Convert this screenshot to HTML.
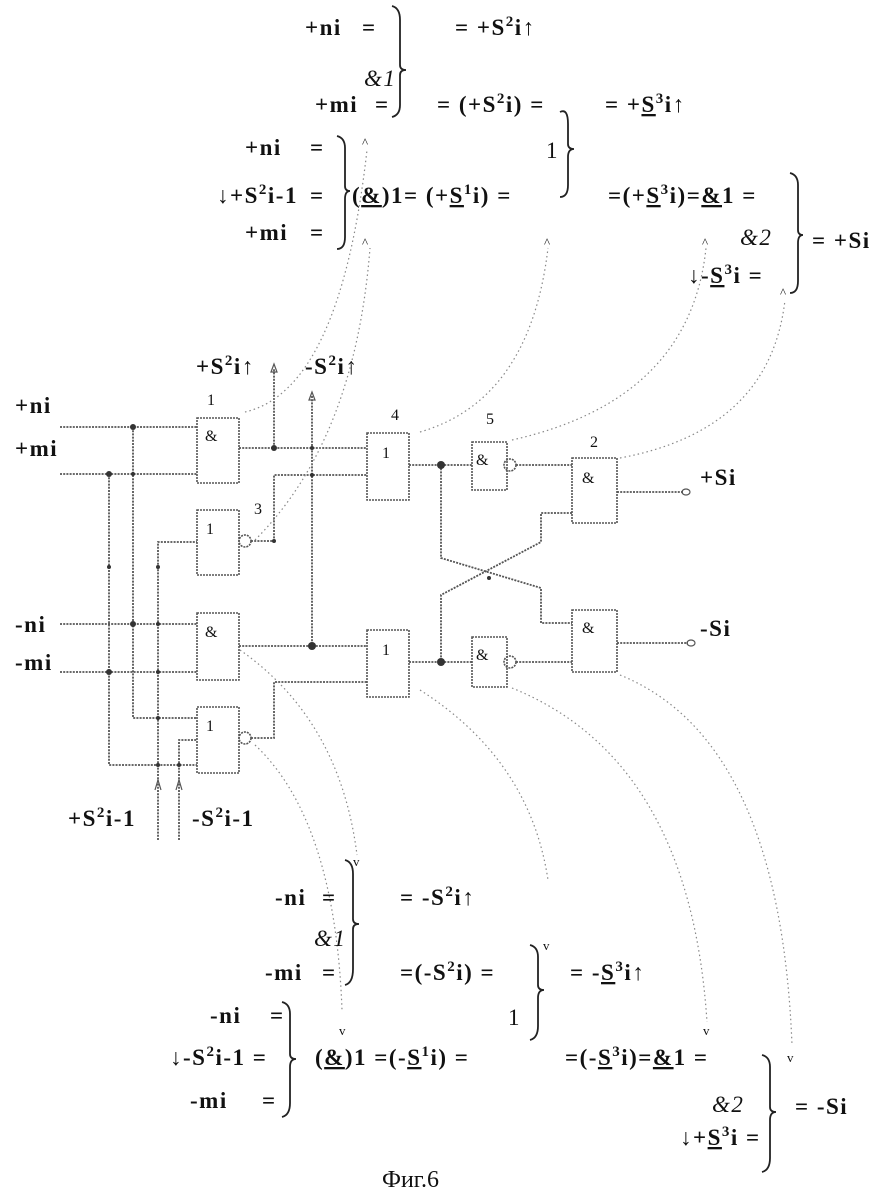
<!DOCTYPE html>
<html><head><meta charset="utf-8"><style>
html,body{margin:0;padding:0;background:#fff;}
svg{display:block;}
text{font-family:"Liberation Serif",serif;fill:#111;}
.t{font-size:23px;font-weight:bold;letter-spacing:1.5px;}
.s{font-size:13px;}
.g{fill:none;stroke:#555;stroke-width:1.8;stroke-dasharray:2 1.2;}
.w{fill:none;stroke:#555;stroke-width:1.6;stroke-dasharray:2 1;}
.d{fill:none;stroke:#888;stroke-width:1.2;stroke-dasharray:1.5 3;}
.br{fill:none;stroke:#222;stroke-width:1.8;}
.j{fill:#333;}
.gl{font-size:16px;fill:#666;}
</style></head><body>
<svg width="888" height="1196" viewBox="0 0 888 1196" xmlns="http://www.w3.org/2000/svg">
<!-- TOP EQUATIONS -->
<g class="t">
<text x="305" y="35">+ni</text><text x="362" y="35">=</text>
<text x="455" y="35">= +S<tspan dy="-9" font-size="15">2</tspan><tspan dy="9">i↑</tspan></text>
<text x="364" y="86" font-style="italic" font-weight="normal">&amp;1</text>
<text x="315" y="112">+mi</text><text x="375" y="112">=</text>
<text x="437" y="112">= (+S<tspan dy="-9" font-size="15">2</tspan><tspan dy="9">i) =</tspan></text>
<text x="605" y="112">= +<tspan text-decoration="underline">S</tspan><tspan dy="-9" font-size="15">3</tspan><tspan dy="9">i↑</tspan></text>
<text x="245" y="155">+ni</text><text x="310" y="155">=</text>
<text x="546" y="158" font-weight="normal">1</text>
<text x="217" y="203">↓+S<tspan dy="-9" font-size="15">2</tspan><tspan dy="9">i-1</tspan></text><text x="310" y="203">=</text>
<text x="352" y="203">(<tspan text-decoration="underline">&amp;</tspan>)1= (+<tspan text-decoration="underline">S</tspan><tspan dy="-9" font-size="15">1</tspan><tspan dy="9">i) =</tspan></text>
<text x="608" y="203">=(+<tspan text-decoration="underline">S</tspan><tspan dy="-9" font-size="15">3</tspan><tspan dy="9">i)=</tspan><tspan text-decoration="underline">&amp;</tspan>1 =</text>
<text x="245" y="240">+mi</text><text x="310" y="240">=</text>
<text x="740" y="245" font-style="italic" font-weight="normal">&amp;2</text>
<text x="812" y="248">= +Si</text>
<text x="688" y="283">↓-<tspan text-decoration="underline">S</tspan><tspan dy="-9" font-size="15">3</tspan><tspan dy="9">i =</tspan></text>
</g>
<g class="s"><text x="362" y="147">^</text><text x="362" y="247">^</text><text x="544" y="247">^</text><text x="702" y="247">^</text><text x="780" y="297">^</text></g>
<g class="br">
<path d="M392,6 q8,2 8,14 v45 q0,5 6,5 q-6,0 -6,5 v30 q0,10 -8,12"/>
<path d="M560,112 q8,-4 8,12 v20 q0,5 6,5 q-6,0 -6,8 v28 q0,12 -8,12"/>
<path d="M337,136 q8,2 8,12 v38 q0,5 5,5 q-5,0 -5,8 v38 q0,12 -8,12"/>
<path d="M790,173 q8,2 8,12 v45 q0,5 5,5 q-5,0 -5,8 v38 q0,12 -8,12"/>
</g>
<!-- CIRCUIT -->
<g class="t"><text x="15" y="413">+ni</text><text x="15" y="456">+mi</text>
<text x="15" y="632">-ni</text><text x="15" y="670">-mi</text>
<text x="700" y="485">+Si</text><text x="700" y="636">-Si</text>
<text x="196" y="374">+S<tspan dy="-9" font-size="15">2</tspan><tspan dy="9">i↑</tspan></text>
<text x="305" y="374">-S<tspan dy="-9" font-size="15">2</tspan><tspan dy="9">i↑</tspan></text>
<text x="68" y="826">+S<tspan dy="-9" font-size="15">2</tspan><tspan dy="9">i-1</tspan></text>
<text x="192" y="826">-S<tspan dy="-9" font-size="15">2</tspan><tspan dy="9">i-1</tspan></text></g>
<g class="gl"><text x="207" y="405">1</text><text x="391" y="420">4</text><text x="486" y="424">5</text><text x="590" y="447">2</text><text x="254" y="514">3</text></g>
<g class="w">
<rect x="197" y="418" width="42" height="65"/><rect x="197" y="510" width="42" height="65"/>
<rect x="197" y="613" width="42" height="67"/><rect x="197" y="707" width="42" height="66"/>
<rect x="367" y="433" width="42" height="67"/><rect x="367" y="630" width="42" height="67"/>
<rect x="472" y="442" width="35" height="48"/><rect x="472" y="637" width="35" height="50"/>
<rect x="572" y="458" width="45" height="65"/><rect x="572" y="610" width="45" height="62"/>
<circle cx="245" cy="541" r="6"/><circle cx="245" cy="738" r="6"/>
<circle cx="510" cy="465" r="6"/><circle cx="510" cy="662" r="6"/>
</g>
<g class="gl"><text x="205" y="441">&amp;</text><text x="206" y="534">1</text><text x="205" y="637">&amp;</text><text x="206" y="731">1</text>
<text x="382" y="458">1</text><text x="382" y="655">1</text><text x="476" y="465">&amp;</text><text x="476" y="660">&amp;</text>
<text x="582" y="483">&amp;</text><text x="582" y="633">&amp;</text></g>
<g class="g">
<path d="M60,427 H197 M60,474 H197"/>
<path d="M133,427 V718 H197 M109,474 V765 H197"/>
<path d="M158,840 V542 H197 M179,840 V740 H197"/>
<path d="M239,448 H367 M274,448 V368 M312,396 V646"/>
<path d="M251,541 H274 V475 H367"/>
<path d="M60,624 H197 M60,672 H197"/>
<path d="M239,646 H367 M251,738 H274 V682 H367"/>
<path d="M409,465 H472 M516,465 H572 M617,492 H683"/>
<path d="M441,465 V558 L541,588 V623 H572"/>
<path d="M572,513 H541 V542 L441,595 V662"/>
<path d="M409,662 H472 M516,662 H572 M617,643 H688"/>
</g>
<g class="j"><circle cx="133" cy="427" r="3"/><circle cx="109" cy="474" r="3"/><circle cx="133" cy="474" r="2"/>
<circle cx="274" cy="448" r="3"/><circle cx="312" cy="448" r="2"/><circle cx="312" cy="475" r="2"/>
<circle cx="133" cy="624" r="3"/><circle cx="109" cy="672" r="3"/><circle cx="158" cy="624" r="2"/><circle cx="158" cy="672" r="2"/><circle cx="158" cy="718" r="2"/><circle cx="158" cy="765" r="2"/><circle cx="179" cy="765" r="2"/>
<circle cx="312" cy="646" r="4"/><circle cx="441" cy="465" r="4"/><circle cx="441" cy="662" r="4"/><circle cx="489" cy="578" r="2"/><circle cx="274" cy="541" r="2"/>
<circle cx="109" cy="567" r="2"/><circle cx="158" cy="567" r="2"/></g>
<g fill="none" stroke="#555" stroke-width="1.2">
<path d="M271,372 L274,364 L277,372 Z M309,400 L312,392 L315,400 Z M155,790 L158,780 L161,790 M176,790 L179,780 L182,790"/>
<ellipse cx="686" cy="492" rx="4" ry="3"/><ellipse cx="691" cy="643" rx="4" ry="3"/></g>
<!-- dotted connectors -->
<g class="d">
<path d="M245,412 Q340,390 367,150"/>
<path d="M255,540 Q355,440 370,248"/>
<path d="M420,432 Q530,400 548,248"/>
<path d="M512,440 Q690,400 706,248"/>
<path d="M620,458 Q770,430 785,300"/>
<path d="M240,650 Q340,720 357,855"/>
<path d="M255,745 Q335,820 342,1010"/>
<path d="M420,690 Q530,760 548,880"/>
<path d="M512,688 Q690,760 707,1022"/>
<path d="M620,675 Q780,740 792,1045"/>
</g>
<!-- BOTTOM EQUATIONS -->
<g class="t">
<text x="275" y="905">-ni</text><text x="322" y="905">=</text>
<text x="400" y="905">= -S<tspan dy="-9" font-size="15">2</tspan><tspan dy="9">i↑</tspan></text>
<text x="314" y="946" font-style="italic" font-weight="normal">&amp;1</text>
<text x="265" y="980">-mi</text><text x="322" y="980">=</text>
<text x="400" y="980">=(-S<tspan dy="-9" font-size="15">2</tspan><tspan dy="9">i) =</tspan></text>
<text x="570" y="980">= -<tspan text-decoration="underline">S</tspan><tspan dy="-9" font-size="15">3</tspan><tspan dy="9">i↑</tspan></text>
<text x="210" y="1023">-ni</text><text x="270" y="1023">=</text>
<text x="508" y="1025" font-weight="normal">1</text>
<text x="170" y="1065">↓-S<tspan dy="-9" font-size="15">2</tspan><tspan dy="9">i-1 =</tspan></text>
<text x="315" y="1065">(<tspan text-decoration="underline">&amp;</tspan>)1 =(-<tspan text-decoration="underline">S</tspan><tspan dy="-9" font-size="15">1</tspan><tspan dy="9">i) =</tspan></text>
<text x="565" y="1065">=(-<tspan text-decoration="underline">S</tspan><tspan dy="-9" font-size="15">3</tspan><tspan dy="9">i)=</tspan><tspan text-decoration="underline">&amp;</tspan>1 =</text>
<text x="190" y="1108">-mi</text><text x="262" y="1108">=</text>
<text x="712" y="1112" font-style="italic" font-weight="normal">&amp;2</text>
<text x="795" y="1114">= -Si</text>
<text x="680" y="1145">↓+<tspan text-decoration="underline">S</tspan><tspan dy="-9" font-size="15">3</tspan><tspan dy="9">i =</tspan></text>
<text x="382" y="1187" font-size="24" font-weight="normal" letter-spacing="0">Фиг.6</text>
</g>
<g class="s"><text x="353" y="866">v</text><text x="543" y="950">v</text><text x="339" y="1035">v</text><text x="703" y="1035">v</text><text x="787" y="1062">v</text></g>
<g class="br">
<path d="M345,860 q8,2 8,14 v45 q0,5 6,5 q-6,0 -6,5 v40 q0,14 -8,16"/>
<path d="M530,945 q8,2 8,12 v28 q0,5 6,5 q-6,0 -6,8 v28 q0,12 -8,14"/>
<path d="M282,1002 q8,2 8,12 v40 q0,5 6,5 q-6,0 -6,8 v36 q0,12 -8,14"/>
<path d="M762,1055 q8,2 8,12 v40 q0,5 6,5 q-6,0 -6,8 v38 q0,12 -8,14"/>
</g>
</svg>
</body></html>
